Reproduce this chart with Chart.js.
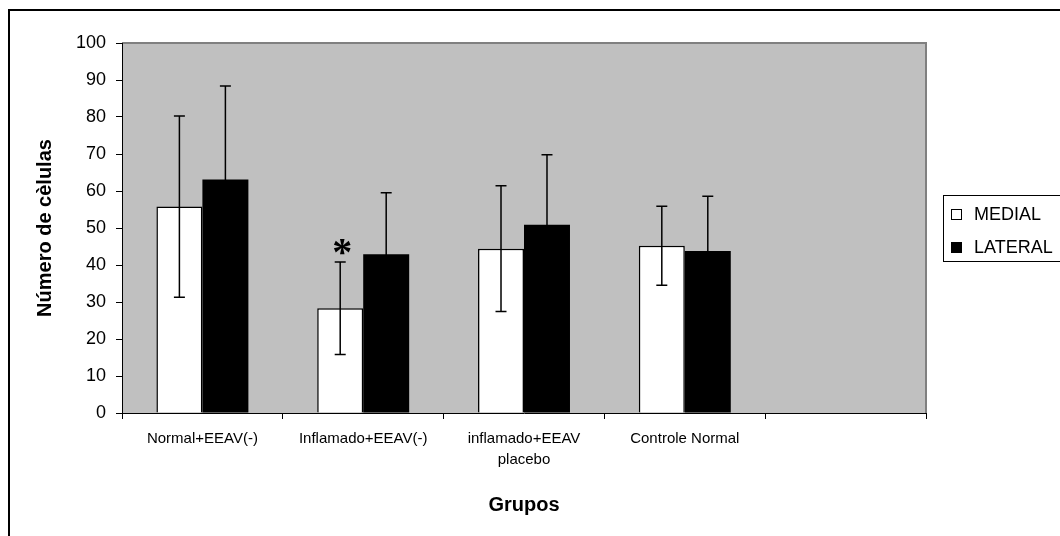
<!DOCTYPE html>
<html>
<head>
<meta charset="utf-8">
<script src="https://cdn.jsdelivr.net/npm/chart.js@4.4.0/dist/chart.umd.min.js"></script>
<style>
    html, body { margin: 0; padding: 0; background: #fff; }
</style>
</head>
<body>
<canvas id="chart" width="1060" height="536"></canvas>
<script>
const groups = ["Normal+EEAV(-)", "Inflamado+EEAV(-)", ["inflamado+EEAV", "placebo"], "Controle Normal", ""];
const medial = [55.8, 28.3, 44.4, 45.2, null];
const medialSd = [24.5, 12.5, 17.0, 10.7, null];
const lateral = [63.1, 42.9, 50.9, 43.8, null];
const lateralSd = [25.3, 16.6, 18.9, 14.8, null];
const medialMarks = ["", "*", "", "", ""];
const yTicks = [0, 10, 20, 30, 40, 50, 60, 70, 80, 90, 100];

const FONT = "'Liberation Sans', Arial, sans-serif";

// grey plot area + frame round the whole chart
const plotBg = {
    id: "plotBg",
    beforeDraw(chart) {
        const { ctx, chartArea: a } = chart;
        ctx.save();
        ctx.fillStyle = "#fff";
        ctx.fillRect(0, 0, chart.width, chart.height);
        ctx.fillStyle = "#c0c0c0";
        ctx.fillRect(a.left, a.top, a.right - a.left, a.bottom - a.top);
        ctx.strokeStyle = "#808080";
        ctx.lineWidth = 2;
        ctx.beginPath();
        ctx.moveTo(a.left, a.top);
        ctx.lineTo(a.right, a.top);
        ctx.lineTo(a.right, a.bottom);
        ctx.stroke();
        ctx.restore();
    },
    afterDraw(chart) {
        const ctx = chart.ctx;
        ctx.save();
        ctx.strokeStyle = "#000";
        ctx.lineWidth = 2;
        ctx.strokeRect(9, 10, 1200, 700);
        ctx.restore();
    }
};

// error bars (+/- sd) and the significance mark
const errorBars = {
    id: "errorBars",
    afterDatasetsDraw(chart) {
        const { ctx, scales: { y } } = chart;
        ctx.save();
        ctx.strokeStyle = "#000";
        ctx.lineWidth = 1.5;
        chart.data.datasets.forEach((ds, i) => {
            const meta = chart.getDatasetMeta(i);
            meta.data.forEach((bar, j) => {
                const v = ds.data[j];
                const sd = ds.sd[j];
                if (v == null || sd == null) return;
                const yTop = y.getPixelForValue(v + sd);
                const yBot = y.getPixelForValue(v - sd);
                ctx.beginPath();
                ctx.moveTo(bar.x, yTop);
                ctx.lineTo(bar.x, yBot);
                ctx.moveTo(bar.x - 5.5, yTop);
                ctx.lineTo(bar.x + 5.5, yTop);
                ctx.moveTo(bar.x - 5.5, yBot);
                ctx.lineTo(bar.x + 5.5, yBot);
                ctx.stroke();

                const mark = ds.marks && ds.marks[j];
                if (mark) {
                    ctx.fillStyle = "#000";
                    ctx.font = "bold 40px 'Liberation Serif', serif";
                    ctx.textAlign = "center";
                    ctx.textBaseline = "middle";
                    ctx.fillText(mark, bar.x + 2, yTop - 7);
                }
            });
        });
        ctx.restore();
    }
};

// Excel style legend box at the right
const boxLegend = {
    id: "boxLegend",
    afterDraw(chart) {
        const ctx = chart.ctx;
        const x0 = 943, y0 = 195;
        ctx.save();
        ctx.strokeStyle = "#000";
        ctx.lineWidth = 1;
        ctx.strokeRect(x0 + 0.5, y0 + 0.5, 200, 66);
        ctx.font = "18px " + FONT;
        ctx.textBaseline = "middle";
        chart.data.datasets.forEach((ds, i) => {
            const cy = y0 + 19 + i * 33;
            ctx.fillStyle = ds.backgroundColor;
            ctx.fillRect(951, cy - 5, 11, 11);
            ctx.strokeStyle = "#000";
            ctx.strokeRect(951.5, cy - 4.5, 10, 10);
            ctx.fillStyle = "#000";
            ctx.fillText(ds.label, 974, cy + 1);
        });
        ctx.restore();
    }
};

new Chart(document.getElementById("chart"), {
    type: "bar",
    data: {
        labels: groups,
        datasets: [
            {
                label: "MEDIAL",
                data: medial,
                sd: medialSd,
                marks: medialMarks,
                backgroundColor: "#ffffff",
                borderColor: "#000000",
                borderWidth: 1.5,
                categoryPercentage: 0.572,
                barPercentage: 1
            },
            {
                label: "LATERAL",
                data: lateral,
                sd: lateralSd,
                backgroundColor: "#000000",
                borderColor: "#000000",
                borderWidth: 0,
                categoryPercentage: 0.572,
                barPercentage: 1
            }
        ]
    },
    options: {
        responsive: false,
        animation: false,
        layout: {
            padding: { left: 0, top: 43, right: 134, bottom: 0 }
        },
        plugins: {
            legend: { display: false },
            tooltip: { enabled: false }
        },
        scales: {
            x: {
                afterFit: s => { s.height = 123; },
                grid: {
                    drawOnChartArea: false,
                    color: "#000",
                    tickLength: 6,
                    offset: true
                },
                border: { color: "#000", width: 1 },
                ticks: {
                    color: "#000",
                    padding: 10,
                    font: { family: FONT, size: 15, lineHeight: 1.35 },
                    maxRotation: 0,
                    autoSkip: false
                },
                title: {
                    display: true,
                    text: "Grupos",
                    color: "#000",
                    font: { family: FONT, size: 20, weight: "bold" },
                    padding: { top: 0, bottom: 19 }
                }
            },
            y: {
                min: 0,
                max: 100,
                afterFit: s => { s.width = 122; },
                afterBuildTicks: s => { s.ticks = yTicks.map(v => ({ value: v })); },
                grid: {
                    drawOnChartArea: false,
                    color: "#000",
                    tickLength: 6
                },
                border: { color: "#000", width: 1 },
                ticks: {
                    color: "#000",
                    padding: 10,
                    font: { family: FONT, size: 18 }
                },
                title: {
                    display: true,
                    text: "Número de cèlulas",
                    color: "#000",
                    font: { family: FONT, size: 20, weight: "bold" },
                    padding: { top: 33, bottom: 0 }
                }
            }
        }
    },
    plugins: [plotBg, errorBars, boxLegend]
});
</script>
</body>
</html>
